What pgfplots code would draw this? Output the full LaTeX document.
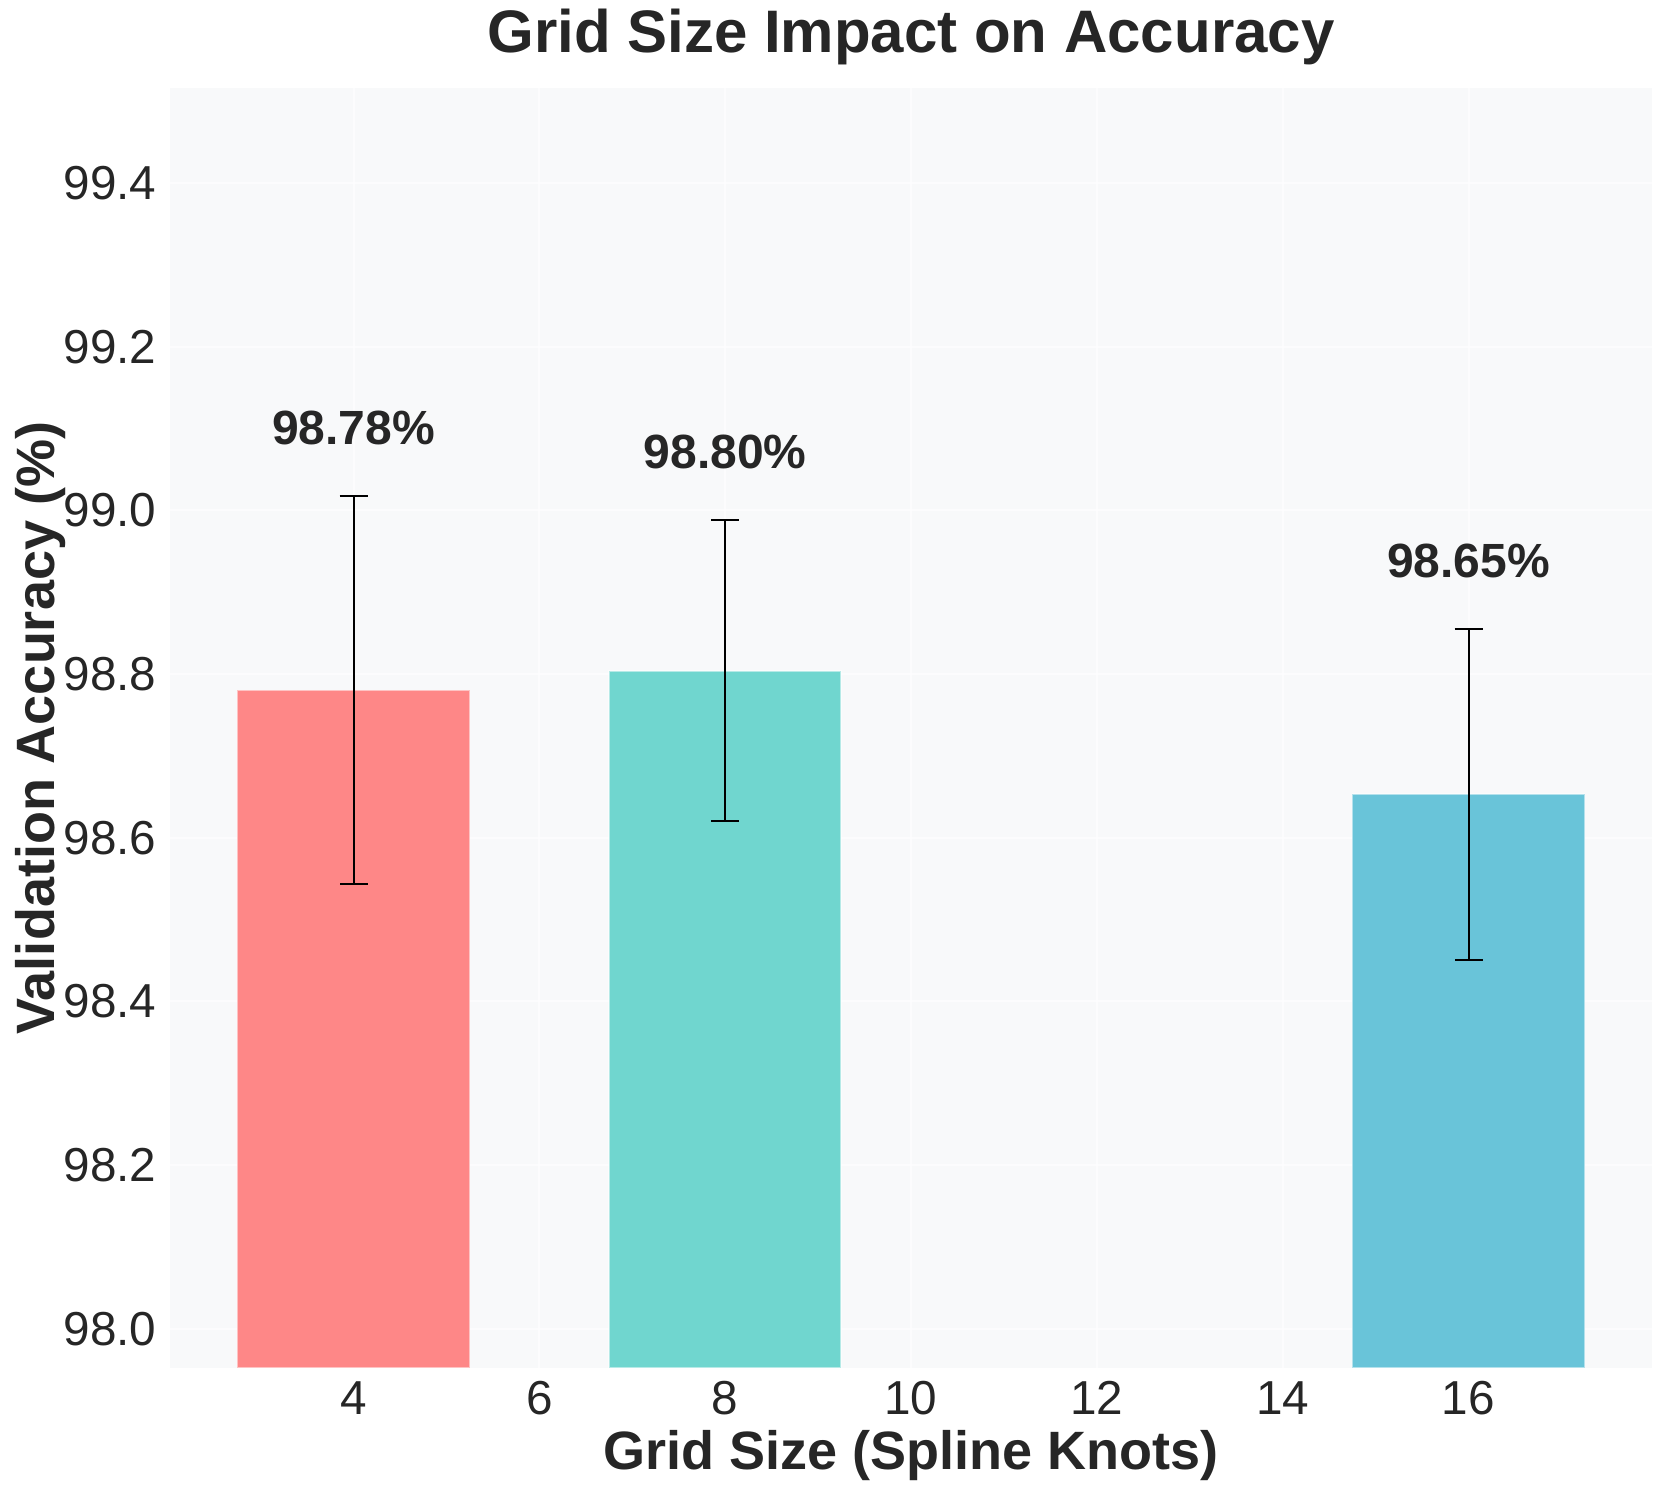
\documentclass[border=0pt]{standalone}
\usepackage{fontspec}
\setmainfont{Liberation Sans}
\usepackage{pgfplots}
\usepackage{pgfplotstable}
\pgfplotsset{compat=1.18}
\definecolor{bgc}{HTML}{F8F9FA}
\definecolor{txt}{HTML}{262626}
\definecolor{c1}{HTML}{FE8787}
\definecolor{c2}{HTML}{70D6CF}
\definecolor{c3}{HTML}{69C4D9}
\pgfplotstableread{
x y err
4 98.780 0.237
8 98.804 0.184
16 98.653 0.202
}\acc
\begin{document}
\begin{tikzpicture}
\begin{axis}[
  name=ax, at={(0,0)}, anchor=south west,
  scale only axis, width=444.6pt, height=384pt,
  xmin=2.025, xmax=17.975, ymin=97.952, ymax=99.516,
  xtick={4,6,8,10,12,14,16},
  ytick={98.0,98.2,98.4,98.6,98.8,99.0,99.2,99.4},
  axis background/.style={fill=bgc},
  axis line style={draw=none},
  major tick length=0pt,
  tick style={draw=none},
  grid=major,
  grid style={white, line width=0.6pt, opacity=0.6},
  ticklabel style={font=\fontsize{14.3pt}{17pt}\selectfont, text=txt},
  /pgf/number format/assume math mode=true,
  xticklabel style={anchor=base, inner sep=0pt, yshift=-14.1pt},
  yticklabel style={anchor=east, inner sep=0pt, xshift=-3.9pt,
    /pgf/number format/.cd, fixed, fixed zerofill, precision=1, assume math mode=true},
  title={Grid Size Impact on Accuracy},
  every axis title/.style={at={(0.5,1)}, anchor=base, yshift=10.5pt,
    font=\fontsize{18pt}{21pt}\selectfont\bfseries, text=txt},
  xlabel={Grid Size (Spline Knots)},
  every axis x label/.style={at={(0.5,0)}, anchor=base, yshift=-30.6pt,
    font=\fontsize{16.2pt}{19pt}\selectfont\bfseries, text=txt},
  ylabel={Validation Accuracy (\%)},
  every axis y label/.style={at={(0,0.5)}, xshift=-34.5pt, rotate=90, anchor=base,
    font=\fontsize{16.2pt}{19pt}\selectfont\bfseries, text=txt},
]
\addplot[ybar, bar width=2.5, fill=c1, draw=white, draw opacity=0.5, line width=0.5pt,
  error bars/.cd, y dir=both, y explicit,
  error bar style={black, line width=0.6pt, draw opacity=1},
  error mark options={rotate=90, black, mark size=4.2pt, line width=0.6pt, draw opacity=1}]
  coordinates {(4,98.780) +- (0,0.237)};
\addplot[ybar, bar width=2.5, fill=c2, draw=white, draw opacity=0.5, line width=0.5pt,
  error bars/.cd, y dir=both, y explicit,
  error bar style={black, line width=0.6pt, draw opacity=1},
  error mark options={rotate=90, black, mark size=4.2pt, line width=0.6pt, draw opacity=1}]
  coordinates {(8,98.804) +- (0,0.184)};
\addplot[ybar, bar width=2.5, fill=c3, draw=white, draw opacity=0.5, line width=0.5pt,
  error bars/.cd, y dir=both, y explicit,
  error bar style={black, line width=0.6pt, draw opacity=1},
  error mark options={rotate=90, black, mark size=4.2pt, line width=0.6pt, draw opacity=1}]
  coordinates {(16,98.653) +- (0,0.202)};
\addplot[draw=none, point meta=\thisrow{y},
  nodes near coords={\pgfmathprintnumber[fixed, fixed zerofill, precision=2, assume math mode=true]{\pgfplotspointmeta}\%},
  every node near coord/.style={anchor=base, inner sep=0pt,
    font=\fontsize{14.4pt}{17pt}\selectfont\bfseries, text=txt}]
  table[x=x, y expr=\thisrow{y}+\thisrow{err}+0.063] {\acc};
\end{axis}
\pgfresetboundingbox
\path[use as bounding box] (-51pt,-36.3pt) rectangle (447pt,410.4pt);
\end{tikzpicture}
\end{document}
